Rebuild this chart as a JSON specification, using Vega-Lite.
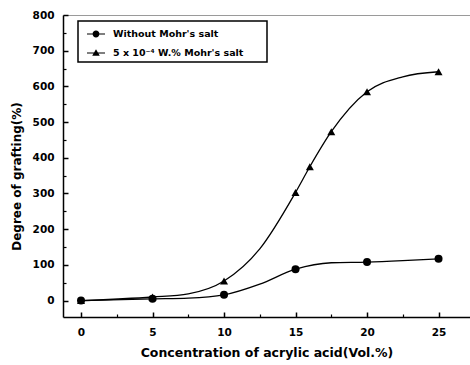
{
  "$schema": "https://vega.github.io/schema/vega-lite/v6.json",
  "width": 407,
  "height": 302,
  "autosize": {"type": "none"},
  "padding": {"left": 63, "top": 15, "right": 0, "bottom": 48},
  "background": "white",
  "config": {
    "view": {"stroke": null},
    "axis": {
      "labelFont": "DejaVu Sans", "labelFontWeight": "bold", "labelFontSize": 10.5, "labelColor": "black",
      "titleFont": "DejaVu Sans", "titleFontWeight": "bold", "titleFontSize": 12.5, "titleColor": "black",
      "domainColor": "black", "tickColor": "black", "grid": false
    },
    "legend": {"strokeWidth": 1.5}
  },
  "data": {
    "values": [
      {"c": 0, "v": 0, "s": "Without Mohr's salt", "m": true},
      {"c": 5, "v": 5, "s": "Without Mohr's salt", "m": true},
      {"c": 7.5, "v": 7, "s": "Without Mohr's salt", "m": false},
      {"c": 10, "v": 16, "s": "Without Mohr's salt", "m": true},
      {"c": 12.5, "v": 46, "s": "Without Mohr's salt", "m": false},
      {"c": 15, "v": 88, "s": "Without Mohr's salt", "m": true},
      {"c": 17.5, "v": 106, "s": "Without Mohr's salt", "m": false},
      {"c": 20, "v": 108, "s": "Without Mohr's salt", "m": true},
      {"c": 22.5, "v": 112, "s": "Without Mohr's salt", "m": false},
      {"c": 25, "v": 117, "s": "Without Mohr's salt", "m": true},
      {"c": 0, "v": 0, "s": "5 x 10⁻⁴ W.% Mohr's salt", "m": true},
      {"c": 5, "v": 10, "s": "5 x 10⁻⁴ W.% Mohr's salt", "m": true},
      {"c": 7.5, "v": 19, "s": "5 x 10⁻⁴ W.% Mohr's salt", "m": false},
      {"c": 10, "v": 55, "s": "5 x 10⁻⁴ W.% Mohr's salt", "m": true},
      {"c": 12.5, "v": 145, "s": "5 x 10⁻⁴ W.% Mohr's salt", "m": false},
      {"c": 15, "v": 303, "s": "5 x 10⁻⁴ W.% Mohr's salt", "m": true},
      {"c": 16, "v": 375, "s": "5 x 10⁻⁴ W.% Mohr's salt", "m": true},
      {"c": 17.5, "v": 473, "s": "5 x 10⁻⁴ W.% Mohr's salt", "m": true},
      {"c": 20, "v": 585, "s": "5 x 10⁻⁴ W.% Mohr's salt", "m": true},
      {"c": 22.5, "v": 627, "s": "5 x 10⁻⁴ W.% Mohr's salt", "m": false},
      {"c": 25, "v": 641, "s": "5 x 10⁻⁴ W.% Mohr's salt", "m": true}
    ]
  },
  "layer": [
    {
      "mark": {"type": "line", "interpolate": "monotone", "color": "black", "strokeWidth": 1.3},
      "encoding": {
        "x": {
          "field": "c", "type": "quantitative",
          "scale": {"domain": [-1.26, 27.2], "nice": false, "zero": false},
          "axis": {
            "values": [0, 5, 10, 15, 20, 25], "tickSize": -5, "tickWidth": 1.5, "domainWidth": 1.5,
            "labelPadding": 15, "title": "Concentration of acrylic acid(Vol.%)", "titlePadding": 9
          }
        },
        "y": {
          "field": "v", "type": "quantitative",
          "scale": {"domain": [-46, 800], "nice": false, "zero": false},
          "axis": {
            "values": [0, 100, 200, 300, 400, 500, 600, 700, 800], "tickSize": -5, "tickWidth": 1.5, "domainWidth": 1.5,
            "labelPadding": 14, "title": "Degree of grafting(%)", "titleFontSize": 12, "titleX": -40, "titleY": 161
          }
        },
        "detail": {"field": "s"}
      }
    },
    {
      "transform": [{"filter": "datum.m"}],
      "mark": {"type": "point", "filled": true, "color": "black", "opacity": 1, "size": 64},
      "encoding": {
        "x": {
          "field": "c", "type": "quantitative",
          "axis": {"orient": "bottom", "values": [2.5, 7.5, 12.5, 17.5, 22.5], "tickSize": -3, "tickWidth": 1.2, "labels": false, "domain": false, "title": null}
        },
        "y": {
          "field": "v", "type": "quantitative",
          "axis": {"orient": "left", "values": [50, 150, 250, 350, 450, 550, 650, 750], "tickSize": -3, "tickWidth": 1.2, "labels": false, "domain": false, "title": null}
        },
        "shape": {
          "field": "s",
          "scale": {"domain": ["Without Mohr's salt", "5 x 10⁻⁴ W.% Mohr's salt"], "range": ["circle", "triangle-up"]},
          "legend": null
        }
      }
    },
    {
      "transform": [{"filter": "false"}],
      "mark": {"type": "point", "filled": true, "color": "black", "opacity": 1},
      "encoding": {
        "x": {
          "field": "c", "type": "quantitative",
          "axis": {"orient": "top", "ticks": false, "labels": false, "domainColor": "#9a9a9a", "domainWidth": 1, "title": null}
        },
        "shape": {
          "field": "s",
          "scale": {
            "domain": ["Without Mohr's salt", "5 x 10⁻⁴ W.% Mohr's salt"],
            "range": [
              "M-1,-0.06L1,-0.06L1,0.06L-1,0.06ZM0.38,0A0.38,0.38,0,1,1,-0.38,0A0.38,0.38,0,1,1,0.38,0Z",
              "M-1,-0.06L1,-0.06L1,0.06L-1,0.06ZM0,-0.42L0.42,0.3L-0.42,0.3Z"
            ]
          },
          "legend": {
            "orient": "none", "legendX": 15, "legendY": 6,
            "title": "\u2003", "titleOrient": "right", "titlePadding": 20, "titleFontSize": 9,
            "strokeColor": "black", "padding": 4, "fillColor": "white",
            "symbolSize": 324, "symbolOffset": 5, "symbolOpacity": 1, "symbolStrokeColor": "black", "symbolFillColor": "black", "symbolStrokeWidth": 0,
            "labelFont": "DejaVu Sans", "labelFontWeight": "bold", "labelFontSize": 9.5, "labelColor": "black",
            "labelOffset": 8, "rowPadding": 5
          }
        }
      }
    }
  ],
  "resolve": {"axis": {"x": "independent", "y": "independent"}, "scale": {"shape": "independent"}}
}
